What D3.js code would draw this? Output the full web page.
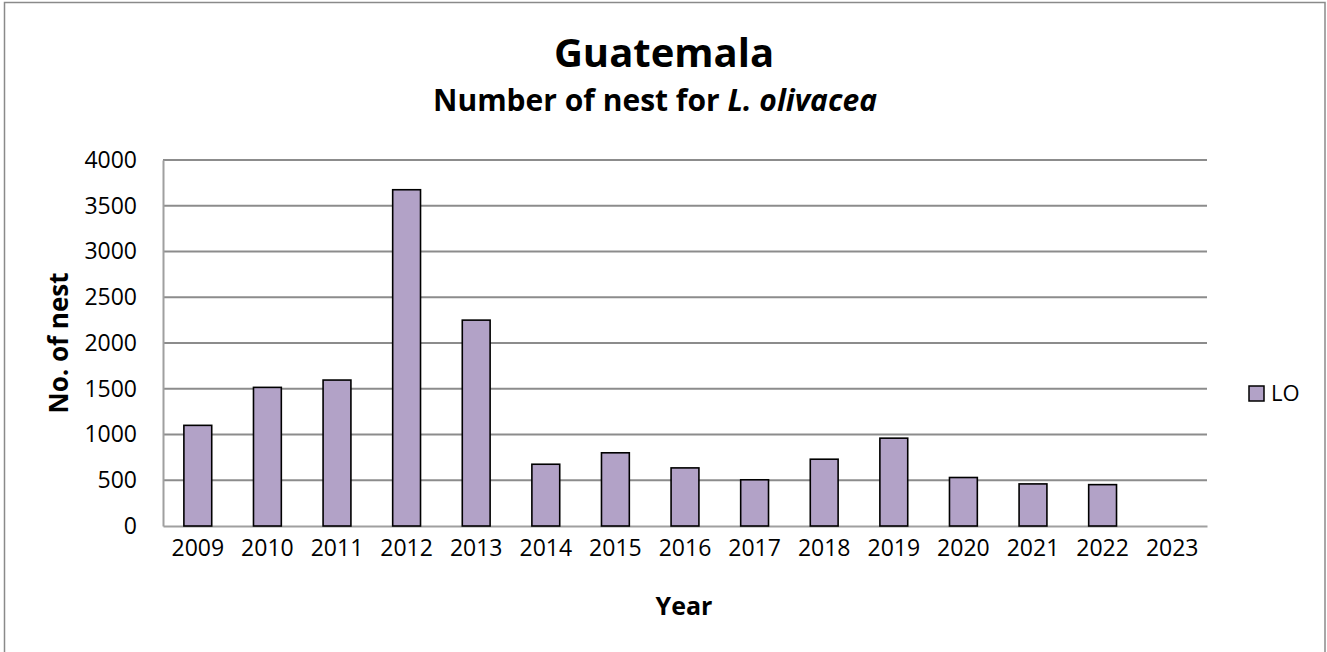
<!DOCTYPE html>
<html>
<head>
<meta charset="utf-8">
<script src="https://cdn.jsdelivr.net/npm/d3@7"></script>
<style>
  html, body { margin: 0; padding: 0; background: #fff; }
  svg text { font-family: "Open Sans", "Noto Sans", sans-serif; fill: #000; }
</style>
</head>
<body>
<svg id="chart" width="1327" height="652"></svg>
<script>
// Nesting counts of olive ridley (L. olivacea) in Guatemala, by season
const years = ["2009", "2010", "2011", "2012", "2013", "2014", "2015", "2016",
               "2017", "2018", "2019", "2020", "2021", "2022", "2023"];
const nests = [1100, 1515, 1595, 3675, 2250, 675, 800, 635,
               505, 730, 960, 530, 460, 452, null];
const yTicks = [0, 500, 1000, 1500, 2000, 2500, 3000, 3500, 4000];
const seriesName = "LO";

const plot = { left: 163, right: 1207, top: 160, bottom: 526 };
const barFill = "#b2a2c7";

const svg = d3.select("#chart");

// outer chart frame
svg.append("rect")
  .attr("x", 4.5).attr("y", 2.5)
  .attr("width", 1320.5).attr("height", 652)
  .attr("fill", "#fff").attr("stroke", "#8a8a8a").attr("stroke-width", 1.5);

const x = d3.scaleBand()
  .domain(years)
  .range([plot.left, plot.right])
  .paddingInner(0.6)
  .paddingOuter(0.3);

const y = d3.scaleLinear()
  .domain([0, 4000])
  .range([plot.bottom, plot.top]);

// horizontal gridlines
svg.append("g")
  .selectAll("line")
  .data(yTicks.filter(d => d > 0))
  .join("line")
  .attr("x1", plot.left).attr("x2", plot.right)
  .attr("y1", d => y(d)).attr("y2", d => y(d))
  .attr("stroke", "#8c8c8c").attr("stroke-width", 2);

// y axis
const yAxis = svg.append("g")
  .attr("transform", `translate(${plot.left},0)`)
  .call(d3.axisLeft(y).tickValues(yTicks).tickFormat(d3.format("d"))
    .tickSize(0).tickPadding(26));
yAxis.select(".domain").attr("stroke", "#a0a0a0").attr("stroke-width", 2);
yAxis.selectAll("text")
  .style("font-size", "23px")
  .style("font-family", "'Open Sans', sans-serif")
  .attr("fill", "#000");

// x axis
const xAxis = svg.append("g")
  .attr("transform", `translate(0,${plot.bottom})`)
  .call(d3.axisBottom(x).tickSize(0).tickPadding(14));
xAxis.select(".domain").attr("stroke", "#a0a0a0").attr("stroke-width", 2);
xAxis.selectAll("text")
  .style("font-size", "23px")
  .style("font-family", "'Open Sans', sans-serif")
  .attr("fill", "#000");

// bars
svg.append("g")
  .selectAll("rect")
  .data(years.map((yr, i) => ({ yr, v: nests[i] })).filter(d => d.v != null))
  .join("rect")
  .attr("x", d => x(d.yr))
  .attr("width", x.bandwidth())
  .attr("y", d => y(d.v))
  .attr("height", d => y(0) - y(d.v))
  .attr("fill", barFill)
  .attr("stroke", "#000")
  .attr("stroke-width", 1.6);

// titles
svg.append("text")
  .attr("x", 664).attr("y", 67)
  .attr("text-anchor", "middle")
  .style("font-size", "40px").style("font-weight", "700")
  .text("Guatemala");

const sub = svg.append("text")
  .attr("x", 655).attr("y", 111)
  .attr("text-anchor", "middle")
  .style("font-size", "30px").style("font-weight", "700");
sub.append("tspan").text("Number of nest for ");
sub.append("tspan").style("font-style", "italic").text("L. olivacea");

// axis titles
svg.append("text")
  .attr("transform", `translate(68,${(plot.top + plot.bottom) / 2}) rotate(-90)`)
  .attr("text-anchor", "middle")
  .style("font-size", "26px").style("font-weight", "700")
  .text("No. of nest");

svg.append("text")
  .attr("x", 684).attr("y", 615)
  .attr("text-anchor", "middle")
  .style("font-size", "25px").style("font-weight", "700")
  .text("Year");

// legend
const lg = svg.append("g").attr("transform", "translate(1249,386)");
lg.append("rect")
  .attr("width", 15).attr("height", 15)
  .attr("fill", barFill).attr("stroke", "#000").attr("stroke-width", 1.5);
lg.append("text")
  .attr("x", 22).attr("y", 15)
  .style("font-size", "22px")
  .text(seriesName);
</script>
</body>
</html>
